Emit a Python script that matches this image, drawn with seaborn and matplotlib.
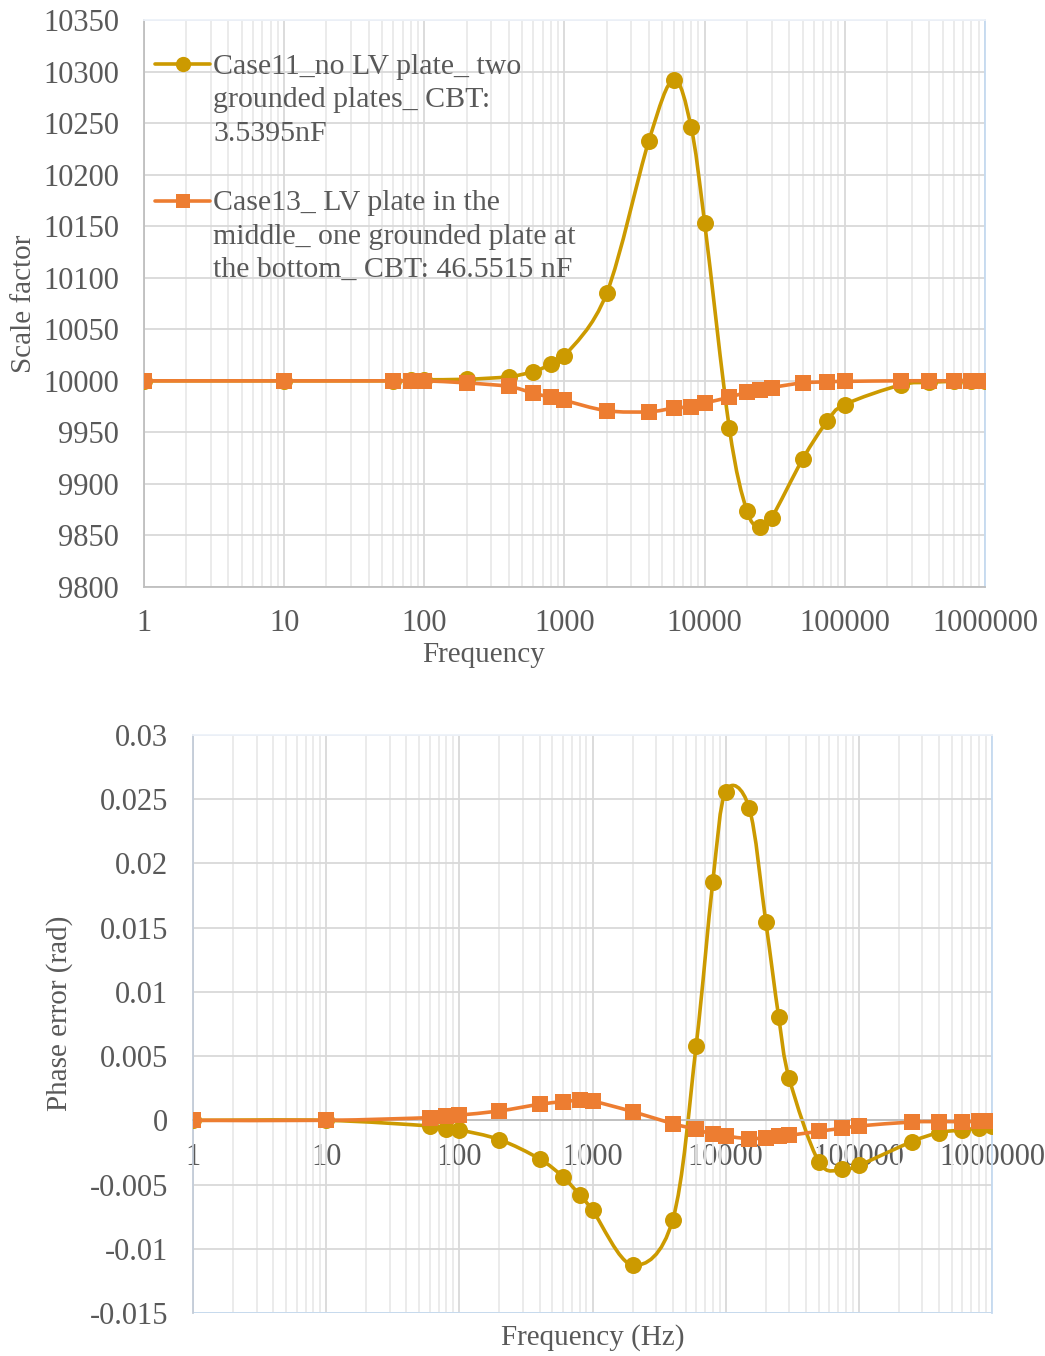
import numpy as np
import pandas as pd
import matplotlib
matplotlib.use("Agg")
import matplotlib.pyplot as plt
import seaborn as sns
from matplotlib.path import Path
from matplotlib.patches import PathPatch
from matplotlib.lines import Line2D
from matplotlib.ticker import FixedLocator, FixedFormatter, LogLocator, NullFormatter

# ---------------- data ----------------
freq = [1, 10, 60, 80, 100, 200, 400, 600, 800, 1000, 2000, 4000, 6000, 8000,
        10000, 15000, 20000, 25000, 30000, 50000, 75000, 100000, 250000,
        400000, 600000, 800000, 1000000]

case11_scale = [10000, 10000, 10000, 10000.5, 10001, 10001.5, 10004, 10009, 10016,
                10024, 10085, 10233, 10292, 10246, 10153, 9954, 9874, 9858, 9867,
                9924, 9961, 9977, 9996, 9998.5, 9999.5, 10000, 10000]

case13_scale = [10000, 10000, 10000, 10000, 10000, 9998, 9994.5, 9988, 9984, 9981,
                9971, 9970, 9973.5, 9975, 9978.5, 9984, 9989, 9991.5, 9993.5,
                9998, 9999, 9999.5, 10000, 10000, 10000, 10000, 10000]

case11_phase = [0, 0, -0.00044, -0.00065, -0.00075, -0.0015, -0.003, -0.0044,
                -0.0058, -0.007, -0.01127, -0.00776, 0.0058, 0.01855, 0.0256,
                0.02434, 0.01547, 0.00807, 0.00327, -0.00322, -0.00382, -0.0035,
                -0.00166, -0.00096, -0.00075, -0.0006, -0.00044]

case13_phase = [0, 0, 0.00021, 0.00034, 0.00041, 0.00073, 0.00125, 0.00145,
                0.00156, 0.0015, 0.00068, -0.00026, -0.0007, -0.0011, -0.00122,
                -0.00143, -0.00135, -0.00122, -0.00117, -0.00085, -0.00062,
                -0.00044, -0.00013, -0.0001, -0.0001, -0.00008, -0.00005]

freq_ticks = [1, 10, 100, 1000, 10000, 100000, 1000000]
freq_tick_labels = ["1", "10", "100", "1000", "10000", "100000", "1000000"]

scale_ticks = [9800, 9850, 9900, 9950, 10000, 10050, 10100, 10150, 10200,
               10250, 10300, 10350]
scale_tick_labels = [str(v) for v in scale_ticks]

phase_ticks = [-0.015, -0.01, -0.005, 0, 0.005, 0.01, 0.015, 0.02, 0.025, 0.03]
phase_tick_labels = ["-0.015", "-0.01", "-0.005", "0", "0.005", "0.01", "0.015",
                     "0.02", "0.025", "0.03"]

label11 = "Case11_no LV plate_ two\ngrounded plates_ CBT:\n3.5395nF"
label13 = "Case13_ LV plate in the\nmiddle_ one grounded plate at\nthe bottom_ CBT: 46.5515 nF"

# ---------------- style ----------------
GOLD = "#CC9A00"
ORANGE = "#ED7D31"
TXT = "#595959"
GRID_MAJ = "#d9d9d9"
GRID_MIN = "#e9e9e9"
AXIS = "#bfbfbf"
SEL = "#c5daf0"

sns.set_theme(style="white")
plt.rcParams["font.family"] = ["Liberation Serif", "DejaVu Serif"]
plt.rcParams["font.size"] = 22
plt.rcParams["text.color"] = TXT
plt.rcParams["axes.labelcolor"] = TXT
plt.rcParams["xtick.color"] = TXT
plt.rcParams["ytick.color"] = TXT

FS_TICK = 22
FS_LAB = 21
FS_LEG = 21.5
LW = 2.6

fig = plt.figure(figsize=(10.45, 13.56), dpi=100)
ax1 = fig.add_axes([144 / 1045, 1 - 587 / 1356, (985 - 144) / 1045, (587 - 20) / 1356])
ax2 = fig.add_axes([193 / 1045, 1 - 1313 / 1356, (992 - 193) / 1045, (1313 - 735) / 1356])


def smooth_line(ax, x, y, color, lw=LW, zorder=2):
    """Excel-style smoothed line: cubic Bezier through the points."""
    P = np.column_stack([np.log10(np.asarray(x, float)), np.asarray(y, float)])
    n = len(P)
    verts = [P[0]]
    codes = [Path.MOVETO]
    for i in range(n - 1):
        p0 = P[i - 1] if i > 0 else P[i]
        p1 = P[i]
        p2 = P[i + 1]
        p3 = P[i + 2] if i + 2 < n else P[i + 1]
        c1 = p1 + (p2 - p0) / 6.0
        c2 = p2 - (p3 - p1) / 6.0
        verts += [c1, c2, p2]
        codes += [Path.CURVE4] * 3
    V = np.array(verts)
    V[:, 0] = 10 ** V[:, 0]
    patch = PathPatch(Path(V, codes), facecolor="none", edgecolor=color, lw=lw,
                      capstyle="round", joinstyle="round", zorder=zorder,
                      transform=ax.transData)
    ax.add_patch(patch)


def draw_series(ax, y11, y13):
    ax.set_xscale("log")
    smooth_line(ax, freq, y11, GOLD, zorder=2)
    df11 = pd.DataFrame({"f": freq, "v": y11})
    sns.scatterplot(data=df11, x="f", y="v", ax=ax, marker="o", s=150,
                    color=GOLD, edgecolor=GOLD, linewidth=0, zorder=3, legend=False)
    smooth_line(ax, freq, y13, ORANGE, zorder=4)
    df13 = pd.DataFrame({"f": freq, "v": y13})
    sns.scatterplot(data=df13, x="f", y="v", ax=ax, marker="s", s=130,
                    color=ORANGE, edgecolor=ORANGE, linewidth=0, zorder=5, legend=False)


def style_axes(ax):
    ax.set_xlim(1, 1000000)
    ax.xaxis.set_major_locator(FixedLocator(freq_ticks))
    ax.xaxis.set_major_formatter(FixedFormatter(freq_tick_labels))
    ax.xaxis.set_minor_locator(LogLocator(base=10, subs=range(2, 10), numticks=20))
    ax.xaxis.set_minor_formatter(NullFormatter())
    ax.grid(which="major", axis="both", color=GRID_MAJ, lw=1.3, zorder=0)
    ax.grid(which="minor", axis="x", color=GRID_MIN, lw=1.3, zorder=0)
    ax.set_axisbelow(True)
    ax.tick_params(axis="x", which="major", direction="in", length=6, width=1.2,
                   color=AXIS, labelsize=FS_TICK, pad=16)
    ax.tick_params(axis="x", which="minor", length=0)
    ax.tick_params(axis="y", which="both", length=0, labelsize=FS_TICK, pad=18)
    ax.spines["top"].set_color("#edf2f9")
    ax.spines["right"].set_color(SEL)
    for s in ax.spines.values():
        s.set_linewidth(1.3)


# ---------------- top chart ----------------
draw_series(ax1, case11_scale, case13_scale)
style_axes(ax1)
ax1.set_ylim(9800, 10350)
ax1.yaxis.set_major_locator(FixedLocator(scale_ticks))
ax1.yaxis.set_major_formatter(FixedFormatter(scale_tick_labels))
ax1.spines["left"].set_color(AXIS)
ax1.spines["bottom"].set_color(AXIS)
ax1.set_xlabel("Frequency", fontsize=FS_LAB)
ax1.xaxis.set_label_coords((484 - 144) / 841, -0.097)
ax1.set_ylabel("Scale factor", fontsize=FS_LAB, labelpad=4)

handles = [
    Line2D([], [], color=GOLD, lw=LW, marker="o", markersize=11, markeredgewidth=0),
    Line2D([], [], color=ORANGE, lw=LW, marker="s", markersize=10, markeredgewidth=0),
]
leg = ax1.legend(handles, [label11, label13], loc="upper left",
                 bbox_to_anchor=(0.013, 0.94), frameon=False, fontsize=FS_LEG,
                 handlelength=1.85, handletextpad=0.1, labelspacing=1.45,
                 borderpad=0, borderaxespad=0)
for t in leg.get_texts():
    t.set_color(TXT)
    t.set_linespacing(1.37)
for col in leg._legend_handle_box.get_children():
    for item in col.get_children():
        item.align = "top"

# ---------------- bottom chart ----------------
draw_series(ax2, case11_phase, case13_phase)
style_axes(ax2)
ax2.set_ylim(-0.015, 0.03)
ax2.yaxis.set_major_locator(FixedLocator(phase_ticks))
ax2.yaxis.set_major_formatter(FixedFormatter(phase_tick_labels))
ax2.spines["bottom"].set_position(("data", 0))
ax2.spines["bottom"].set_color(AXIS)
ax2.spines["left"].set_color("#c3ccd8")
ax2.axhline(-0.015, color=SEL, lw=2.0, zorder=1)
ax2.set_ylabel("Phase error (rad)", fontsize=FS_LAB)
ax2.yaxis.set_label_coords(-0.150, (1313 - 1013) / 578)
ax2.set_xlabel("Frequency (Hz)", fontsize=FS_LAB)
ax2.xaxis.set_label_coords(0.5, -0.02)

fig.savefig("out.png", dpi=100)
